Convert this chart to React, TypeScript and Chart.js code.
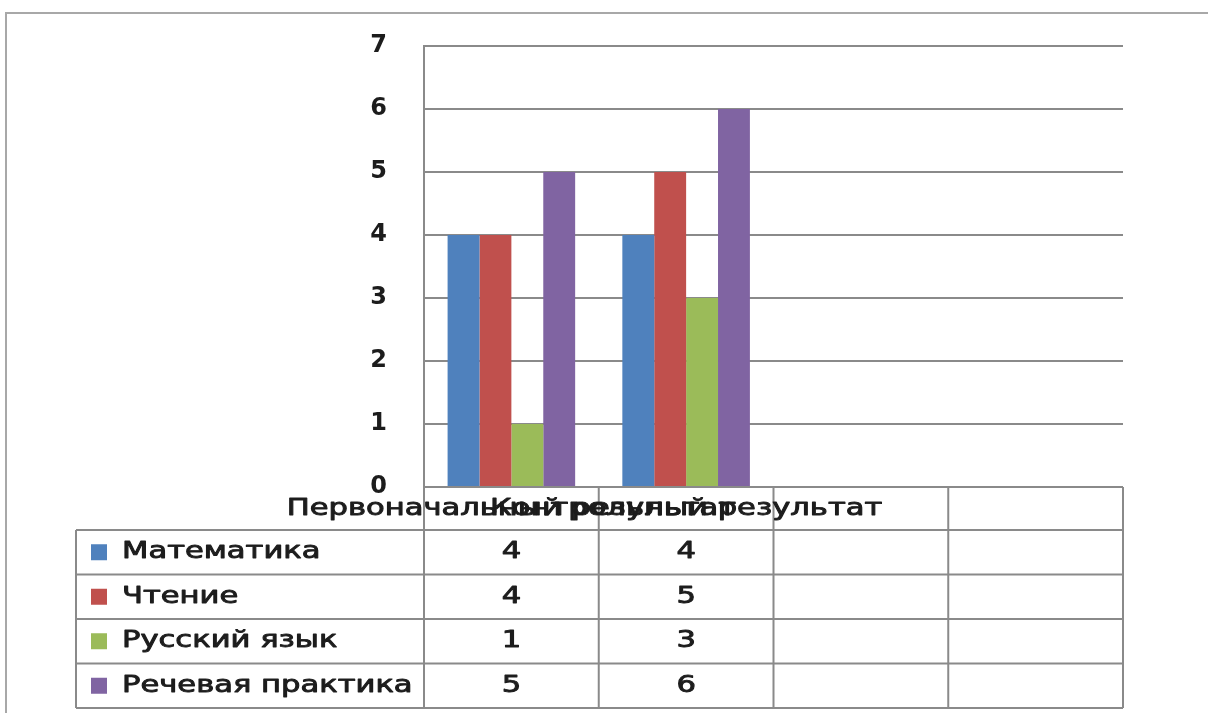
import React, { useEffect, useRef } from "react";
import { Chart, registerables } from "chart.js";

Chart.register(...registerables);

const categories = ["Первоначальный результат", "Контрольный результат", "", ""];
const seriesNames = ["Математика", "Чтение", "Русский язык", "Речевая практика"];
const mathValues = [4, 4, null, null];
const readingValues = [4, 5, null, null];
const russianValues = [1, 3, null, null];
const speechValues = [5, 6, null, null];
const seriesColors = ["#4F81BD", "#C0504D", "#9BBB59", "#8064A2"];
const yTicks = [0, 1, 2, 3, 4, 5, 6, 7];

const FONT = '"DejaVu Sans", sans-serif';
const TEXT_COLOR = "#1c1c1c";
const LINE_COLOR = "#8a8a8a";
const SX = 1.33;

function stretchedText(ctx: CanvasRenderingContext2D, text: string, x: number, y: number, align: CanvasTextAlign) {
  ctx.save();
  ctx.translate(x, y);
  ctx.scale(SX, 1);
  ctx.textAlign = align;
  ctx.textBaseline = "middle";
  ctx.lineWidth = 0.9;
  ctx.strokeStyle = ctx.fillStyle as string;
  ctx.lineJoin = "round";
  ctx.strokeText(text, 0, 0);
  ctx.fillText(text, 0, 0);
  ctx.restore();
}

const frameAndTable = {
  id: "frameAndTable",
  beforeDraw(chart: any) {
    const ctx: CanvasRenderingContext2D = chart.ctx;
    ctx.save();
    ctx.fillStyle = "#ffffff";
    ctx.fillRect(0, 0, chart.width, chart.height);
    ctx.strokeStyle = "#a8a8a8";
    ctx.lineWidth = 2;
    ctx.beginPath();
    ctx.moveTo(6, chart.height + 2);
    ctx.lineTo(6, 13);
    ctx.lineTo(chart.width + 2, 13);
    ctx.stroke();
    ctx.restore();
  },
  afterDraw(chart: any) {
    const ctx: CanvasRenderingContext2D = chart.ctx;
    const area = chart.chartArea;
    const x = chart.scales.x;
    const n = categories.length;
    const cw = (area.right - area.left) / n;
    const top = area.bottom;
    const headerH = 43;
    const rowH = 44.5;
    const tableLeft = 76;
    const rowsTop = top + headerH;
    const bottom = rowsTop + rowH * seriesNames.length;
    const seriesData = chart.data.datasets.map((d: any) => d.data);

    ctx.save();
    ctx.strokeStyle = LINE_COLOR;
    ctx.lineWidth = 2;
    ctx.beginPath();
    for (let i = 0; i <= n; i++) {
      const vx = area.left + i * cw;
      ctx.moveTo(vx, top);
      ctx.lineTo(vx, bottom);
    }
    ctx.moveTo(tableLeft, rowsTop);
    ctx.lineTo(tableLeft, bottom);
    ctx.moveTo(area.left, top);
    ctx.lineTo(area.right, top);
    for (let r = 0; r <= seriesNames.length; r++) {
      const hy = rowsTop + r * rowH;
      ctx.moveTo(tableLeft, hy);
      ctx.lineTo(area.right, hy);
    }
    ctx.stroke();

    ctx.fillStyle = TEXT_COLOR;
    ctx.font = `23px ${FONT}`;
    categories.forEach((c, i) => {
      if (!c) return;
      stretchedText(ctx, c, x.getPixelForValue(i), top + headerH / 2 + 1, "center");
    });
    seriesNames.forEach((name, r) => {
      const cy = rowsTop + r * rowH + rowH / 2;
      ctx.fillStyle = seriesColors[r];
      ctx.fillRect(91, cy - 8, 16, 16);
      ctx.fillStyle = TEXT_COLOR;
      stretchedText(ctx, name, 122, cy, "left");
      seriesData[r].forEach((v: number | null, i: number) => {
        if (v === null || v === undefined) return;
        stretchedText(ctx, String(v), x.getPixelForValue(i), cy, "center");
      });
    });
    ctx.restore();
  },
};

export default function App() {
  const ref = useRef<HTMLCanvasElement | null>(null);
  useEffect(() => {
    if (!ref.current) return;
    const seriesValues = [mathValues, readingValues, russianValues, speechValues];
    const chart = new Chart(ref.current, {
      type: "bar",
      data: {
        labels: categories,
        datasets: seriesNames.map((name, i) => ({
          label: name,
          data: seriesValues[i],
          backgroundColor: seriesColors[i],
          borderWidth: 0,
          categoryPercentage: 0.73,
          barPercentage: 1.0,
        })),
      },
      options: {
        animation: false,
        responsive: true,
        maintainAspectRatio: false,
        layout: { padding: { top: 46, right: 85, bottom: 226, left: 0 } },
        plugins: { legend: { display: false }, tooltip: { enabled: false }, title: { display: false } },
        scales: {
          x: { display: false },
          y: {
            min: 0,
            max: 7,
            afterFit: (scale: any) => {
              scale.width = 424;
              scale.paddingTop = 0;
              scale.paddingBottom = 0;
            },
            afterBuildTicks: (scale: any) => {
              scale.ticks = yTicks.map((v) => ({ value: v }));
            },
            ticks: {
              stepSize: 1,
              padding: 37,
              color: TEXT_COLOR,
              font: { family: FONT, size: 24, weight: "bold" },
            },
            grid: { color: LINE_COLOR, lineWidth: 2, drawTicks: false },
            border: { display: true, color: LINE_COLOR, width: 2 },
          },
        },
      },
      plugins: [frameAndTable],
    });
    return () => chart.destroy();
  }, []);
  return (
    <div style={{ position: "absolute", left: 0, top: 0, width: 1208, height: 713 }}>
      <canvas ref={ref} />
    </div>
  );
}
